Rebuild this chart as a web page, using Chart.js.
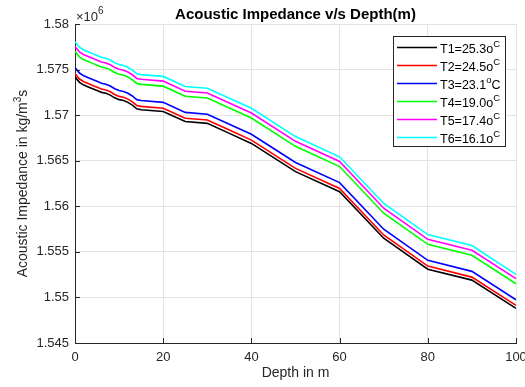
<!DOCTYPE html>
<html>
<head>
<meta charset="utf-8">
<script src="https://cdn.jsdelivr.net/npm/chart.js@4.4.1/dist/chart.umd.min.js"></script>
<style>
  html, body { margin: 0; padding: 0; background: #ffffff; }
  #wrap { width: 525px; height: 387px; }
</style>
</head>
<body>
<div id="wrap"><canvas id="impedance"></canvas></div>
<script>
// depth in m (denser sampling near the surface)
const depth = [0, 1, 2, 3, 4, 5, 6, 7, 8, 9, 10, 11, 12, 13, 14, 15,
  20, 25, 30, 35, 40, 50, 60, 70, 80, 90, 100];

// acoustic impedance, units of 10^6 kg/m^3 s
const t1 = [1.57420, 1.57360, 1.57330, 1.57310, 1.57290, 1.57270, 1.57250, 1.57240, 1.57220,
  1.57190, 1.57170, 1.57160, 1.57140, 1.57110, 1.57070, 1.57060, 1.57040, 1.56930, 1.56910,
  1.56800, 1.56690, 1.56380, 1.56160, 1.55650, 1.55310, 1.55190, 1.54880];
const t2 = [1.57456, 1.57396, 1.57366, 1.57346, 1.57326, 1.57306, 1.57286, 1.57276, 1.57256,
  1.57226, 1.57206, 1.57196, 1.57176, 1.57146, 1.57106, 1.57096, 1.57076, 1.56966, 1.56946,
  1.56836, 1.56726, 1.56416, 1.56196, 1.55685, 1.55344, 1.55223, 1.54913];
const t3 = [1.57523, 1.57462, 1.57431, 1.57411, 1.57391, 1.57371, 1.57350, 1.57340, 1.57320,
  1.57290, 1.57270, 1.57260, 1.57240, 1.57210, 1.57170, 1.57160, 1.57140, 1.57030, 1.57010,
  1.56900, 1.56790, 1.56480, 1.56260, 1.55748, 1.55407, 1.55286, 1.54975];
const t4 = [1.57700, 1.57638, 1.57608, 1.57588, 1.57568, 1.57548, 1.57528, 1.57518, 1.57498,
  1.57468, 1.57448, 1.57438, 1.57418, 1.57388, 1.57348, 1.57338, 1.57318, 1.57208, 1.57188,
  1.57078, 1.56968, 1.56658, 1.56436, 1.55924, 1.55583, 1.55462, 1.55150];
const t5 = [1.57753, 1.57693, 1.57663, 1.57643, 1.57623, 1.57603, 1.57583, 1.57573, 1.57553,
  1.57523, 1.57503, 1.57493, 1.57473, 1.57443, 1.57403, 1.57393, 1.57373, 1.57263, 1.57243,
  1.57133, 1.57023, 1.56713, 1.56491, 1.55979, 1.55638, 1.55517, 1.55206];
const t6 = [1.57805, 1.57745, 1.57715, 1.57695, 1.57675, 1.57655, 1.57635, 1.57625, 1.57605,
  1.57575, 1.57555, 1.57545, 1.57525, 1.57495, 1.57455, 1.57445, 1.57425, 1.57315, 1.57295,
  1.57185, 1.57075, 1.56765, 1.56543, 1.56031, 1.55690, 1.55569, 1.55253];

const series = [t1, t2, t3, t4, t5, t6];
const colors = ["#000000", "#ff0000", "#0000ff", "#00ff00", "#ff00ff", "#00ffff"];
// legend text: [base, superscript, tail]
const labels = [
  ["T1=25.3o", "C", ""],
  ["T2=24.5o", "C", ""],
  ["T3=23.1", "o", "C"],
  ["T4=19.0o", "C", ""],
  ["T5=17.4o", "C", ""],
  ["T6=16.1o", "C", ""],
];
const xTicks = [0, 20, 40, 60, 80, 100];

const FONT = "Liberation Sans, Arial, sans-serif";
const INK = "#262626";

const datasets = series.map((vals, i) => ({
  label: labels[i].join(""),
  data: vals.map((v, j) => ({ x: depth[j], y: v })),
  borderColor: colors[i],
  borderWidth: 1.6,
  pointRadius: 0,
  tension: 0,
  fill: false,
}));

// texts and inward tick marks drawn on top of the chart
const decorations = {
  id: "decorations",
  afterDraw(chart) {
    const { ctx, chartArea: a, scales } = chart;
    ctx.save();

    // inward ticks on the two axes
    ctx.strokeStyle = INK;
    ctx.lineWidth = 1;
    ctx.beginPath();
    xTicks.forEach((t) => {
      const x = Math.round(scales.x.getPixelForValue(t)) + 0.5;
      ctx.moveTo(x, a.bottom);
      ctx.lineTo(x, a.bottom - 5);
    });
    scales.y.ticks.forEach((t) => {
      const y = Math.round(scales.y.getPixelForValue(t.value)) + 0.5;
      ctx.moveTo(a.left, y);
      ctx.lineTo(a.left + 5, y);
    });
    ctx.stroke();

    // title
    ctx.fillStyle = "#000000";
    ctx.font = "bold 15px " + FONT;
    ctx.textAlign = "center";
    ctx.textBaseline = "alphabetic";
    ctx.fillText("Acoustic Impedance v/s Depth(m)", (a.left + a.right) / 2, 19);

    // exponent of the y axis
    ctx.fillStyle = INK;
    ctx.textAlign = "left";
    ctx.font = "13px " + FONT;
    ctx.fillText("\u00d710", 76, 21);
    ctx.font = "10px " + FONT;
    ctx.fillText("6", 98, 14);

    // axis titles
    ctx.font = "14px " + FONT;
    ctx.textAlign = "center";
    ctx.fillText("Depth in m", (a.left + a.right) / 2, 377);
    ctx.save();
    ctx.translate(27, (a.top + a.bottom) / 2);
    ctx.rotate(-Math.PI / 2);
    ctx.textAlign = "left";
    const main = "Acoustic Impedance in kg/m";
    const wMain = ctx.measureText(main).width;
    ctx.font = "10px " + FONT;
    const wSup = ctx.measureText("3").width;
    ctx.font = "14px " + FONT;
    const wEnd = ctx.measureText("s").width;
    const x0 = -(wMain + wSup + wEnd) / 2;
    ctx.fillText(main, x0, 0);
    ctx.font = "10px " + FONT;
    ctx.fillText("3", x0 + wMain, -6);
    ctx.font = "14px " + FONT;
    ctx.fillText("s", x0 + wMain + wSup, 0);
    ctx.restore();

    // legend box
    const bx = 393.5, by = 36.5, bw = 112, bh = 110;
    ctx.fillStyle = "#ffffff";
    ctx.fillRect(bx, by, bw, bh);
    ctx.strokeStyle = "#262626";
    ctx.lineWidth = 1;
    ctx.strokeRect(bx, by, bw, bh);
    labels.forEach((lab, i) => {
      const y = 47.5 + i * 18;
      ctx.strokeStyle = colors[i];
      ctx.lineWidth = 1.6;
      ctx.beginPath();
      ctx.moveTo(397, y);
      ctx.lineTo(437, y);
      ctx.stroke();
      ctx.fillStyle = "#000000";
      ctx.textAlign = "left";
      ctx.font = "12.5px " + FONT;
      let x = 440;
      ctx.fillText(lab[0], x, y + 5);
      x += ctx.measureText(lab[0]).width;
      ctx.font = "9.5px " + FONT;
      ctx.fillText(lab[1], x, y - 1);
      x += ctx.measureText(lab[1]).width;
      if (lab[2]) {
        ctx.font = "12.5px " + FONT;
        ctx.fillText(lab[2], x, y + 5);
      }
    });

    ctx.restore();
  },
};

new Chart(document.getElementById("impedance"), {
  type: "line",
  data: { datasets: datasets },
  options: {
    responsive: true,
    maintainAspectRatio: false,
    animation: false,
    layout: { padding: { top: 24, right: 9, left: 0, bottom: 0 } },
    plugins: {
      legend: { display: false },
      title: { display: false },
      tooltip: { enabled: false },
    },
    scales: {
      x: {
        type: "linear",
        min: 0,
        max: 100,
        afterBuildTicks: (scale) => {
          scale.ticks = xTicks.map((v) => ({ value: v }));
        },
        afterFit: (scale) => {
          scale.height = 44;
          scale.paddingLeft = 0;
          scale.paddingRight = 0;
        },
        grid: { color: "#e3e3e3", drawTicks: false },
        border: { display: true, color: INK, width: 1 },
        ticks: { padding: 7, color: INK, font: { family: FONT, size: 13 }, maxRotation: 0 },
      },
      y: {
        min: 1.545,
        max: 1.58,
        afterFit: (scale) => {
          scale.width = 75;
          scale.paddingTop = 0;
          scale.paddingBottom = 0;
        },
        grid: { color: "#e3e3e3", drawTicks: false },
        border: { display: true, color: INK, width: 1 },
        ticks: {
          stepSize: 0.005,
          padding: 6,
          color: INK,
          font: { family: FONT, size: 13 },
          callback: (v) => String(parseFloat(v.toFixed(3))),
        },
      },
    },
  },
  plugins: [decorations],
});
</script>
</body>
</html>
